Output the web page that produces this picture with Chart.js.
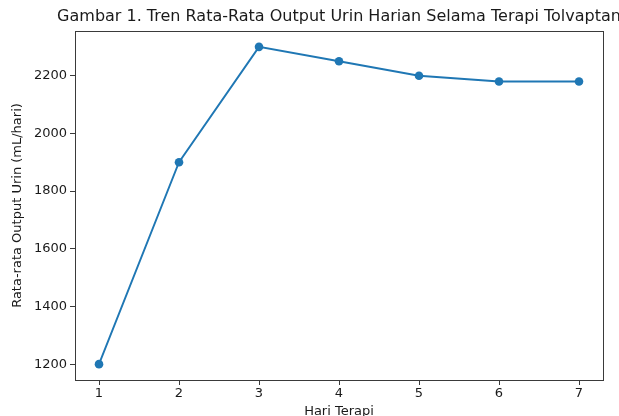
<!DOCTYPE html>
<html>
<head>
<meta charset="utf-8">
<script src="https://cdn.jsdelivr.net/npm/chart.js@4/dist/chart.umd.min.js"></script>
<style>
  html, body { margin: 0; padding: 0; background: #fff; overflow: hidden; }
  #wrap { width: 619px; height: 416px; }
</style>
</head>
<body>
<div id="wrap"><canvas id="urineChart" width="619" height="416"></canvas></div>
<script>
// data
const days = [1, 2, 3, 4, 5, 6, 7];
const urineOutput = [1200, 1900, 2300, 2250, 2200, 2180, 2180];
const yTicks = [1200, 1400, 1600, 1800, 2000, 2200];

const titleText = "Gambar 1. Tren Rata-Rata Output Urin Harian Selama Terapi Tolvaptan";
const xTitle = "Hari Terapi";
const yTitle = "Rata-rata Output Urin (mL/hari)";

const lineBlue = "#1f77b4";
const inkColor = "#1a1a1a";
const spineColor = "#3a3a3a";
const fontFamily = "'DejaVu Sans', sans-serif";

// matplotlib style frame around the axes + a title centred on the axes
// that is allowed to run past the canvas edge like in the source figure
const frameAndTitle = {
  id: "frameAndTitle",
  afterDraw(chart) {
    const { ctx, chartArea } = chart;
    ctx.save();
    ctx.strokeStyle = spineColor;
    ctx.lineWidth = 1;
    ctx.strokeRect(
      Math.round(chartArea.left) + 0.5,
      Math.round(chartArea.top) + 0.5,
      Math.round(chartArea.right - chartArea.left),
      Math.round(chartArea.bottom - chartArea.top)
    );
    ctx.fillStyle = inkColor;
    ctx.font = "16px " + fontFamily;
    ctx.textAlign = "center";
    ctx.textBaseline = "middle";
    ctx.fillText(titleText, (chartArea.left + chartArea.right) / 2, 17);
    ctx.restore();
  },
};

new Chart(document.getElementById("urineChart"), {
  type: "line",
  data: {
    datasets: [
      {
        label: "Output urin",
        data: days.map((d, i) => ({ x: d, y: urineOutput[i] })),
        borderColor: lineBlue,
        backgroundColor: lineBlue,
        borderWidth: 1.9,
        pointRadius: 4.3,
        pointHoverRadius: 4.3,
        pointBorderWidth: 0,
        tension: 0,
      },
    ],
  },
  options: {
    responsive: false,
    animation: false,
    events: [],
    layout: { padding: { left: 0, right: 16, top: 31, bottom: 0 } },
    plugins: {
      legend: { display: false },
      tooltip: { enabled: false },
      title: { display: false },
    },
    scales: {
      x: {
        type: "linear",
        min: 0.7,
        max: 7.3,
        afterBuildTicks: (axis) => {
          axis.ticks = days.map((v) => ({ value: v }));
        },
        afterFit: (axis) => {
          axis.height = 36;
        },
        border: { display: true, color: spineColor, width: 1 },
        grid: {
          drawOnChartArea: false,
          drawTicks: true,
          tickLength: 5,
          tickColor: spineColor,
        },
        ticks: {
          color: inkColor,
          padding: 1,
          font: { family: fontFamily, size: 13 },
          callback: (v) => String(v),
        },
        title: {
          display: true,
          text: xTitle,
          color: inkColor,
          font: { family: fontFamily, size: 13 },
          padding: { top: 0, bottom: -3 },
        },
      },
      y: {
        min: 1145,
        max: 2355,
        afterBuildTicks: (axis) => {
          axis.ticks = yTicks.map((v) => ({ value: v }));
        },
        afterFit: (axis) => {
          axis.width = 75;
        },
        border: { display: true, color: spineColor, width: 1 },
        grid: {
          drawOnChartArea: false,
          drawTicks: true,
          tickLength: 5,
          tickColor: spineColor,
        },
        ticks: {
          color: inkColor,
          padding: 3,
          font: { family: fontFamily, size: 13 },
          callback: (v) => String(v),
        },
        title: {
          display: true,
          text: yTitle,
          color: inkColor,
          font: { family: fontFamily, size: 13 },
          padding: { top: 10, bottom: 0 },
        },
      },
    },
  },
  plugins: [frameAndTitle],
});
</script>
</body>
</html>
